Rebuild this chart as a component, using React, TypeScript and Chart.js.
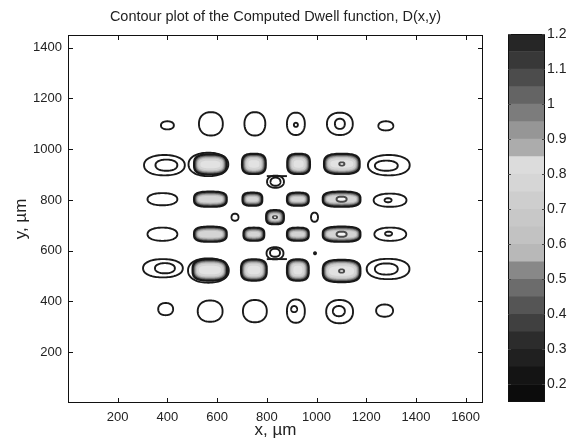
import React, { useEffect, useRef } from 'react';
import { Chart, registerables } from 'chart.js';

Chart.register(...registerables);

// ---------- axes ----------
const chartTitle = 'Contour plot of the Computed Dwell function, D(x,y)';
const xTicks = [200, 400, 600, 800, 1000, 1200, 1400, 1600];
const yTicks = [200, 400, 600, 800, 1000, 1200, 1400];
const xMin = 0;
const xMax = 1670;
const yMin = 0;
const yMax = 1450;

// ---------- single contour lines (centre x, centre y, half width, half height) in µm ----------
const lineCx = [400, 575, 752, 917, 917, 1094, 1094, 1279, 388, 396, 1291, 1281, 380, 1296, 1288, 380, 1297, 1290, 382, 390, 1288, 1281, 393, 572, 752, 917, 910, 1093, 1090, 1274, 672, 992, 835, 835, 833, 833, 565, 565, 994];
const lineCy = [1094, 1100, 1100, 1100, 1096, 1100, 1100, 1092, 937, 937, 937, 935, 803, 799, 799, 665, 665, 667, 531, 531, 528, 528, 370, 362, 362, 362, 370, 360, 362, 364, 732, 732, 872, 872, 590, 592, 940, 522, 590];
const lineRx = [26, 48, 42, 36, 8, 52, 20, 30, 82, 44, 84, 46, 60, 66, 14, 60, 64, 14, 80, 40, 86, 46, 30, 50, 48, 36, 12, 54, 24, 34, 14, 14, 34, 20, 34, 20, 80, 82, 4];
const lineRy = [16, 46, 46, 44, 8, 44, 20, 18, 40, 22, 40, 20, 24, 26, 8, 26, 26, 8, 36, 20, 40, 22, 24, 42, 44, 46, 12, 46, 20, 24, 14, 18, 24, 16, 24, 16, 46, 48, 4];

// ---------- dense (filled) contour groups ----------
const denseCx = [573, 748, 928, 1102, 573, 742, 925, 1101, 573, 748, 925, 1101, 571, 748, 925, 1101, 833];
const denseCy = [940, 942, 942, 942, 803, 803, 803, 803, 665, 665, 665, 665, 524, 524, 524, 520, 732];
const denseRx = [70, 52, 50, 76, 70, 44, 48, 80, 70, 46, 48, 80, 74, 56, 48, 80, 40];
const denseRy = [44, 44, 44, 44, 34, 30, 30, 34, 34, 30, 30, 34, 46, 46, 46, 48, 32];
const coreRx = [0, 0, 0, 14, 0, 0, 0, 24, 0, 0, 0, 24, 0, 0, 0, 14, 12];
const coreRy = [0, 0, 0, 10, 0, 0, 0, 14, 0, 0, 0, 14, 0, 0, 0, 10, 8];

// ---------- bridges joining neighbouring groups ----------
const bridgeY = [894, 567];
const bridgeX1 = [800, 800];
const bridgeX2 = [881, 881];

// ---------- colour bar ----------
const cbTicks = [0.2, 0.3, 0.4, 0.5, 0.6, 0.7, 0.8, 0.9, 1, 1.1, 1.2];
const cbEdges = [0.15, 0.2, 0.25, 0.3, 0.35, 0.4, 0.45, 0.5, 0.55, 0.6, 0.65, 0.7, 0.75, 0.8, 0.85, 0.9, 0.95, 1.0, 1.05, 1.1, 1.15, 1.2];
const cbColors = ['#0c0c0c', '#141414', '#202020', '#2c2c2c', '#404040', '#555555', '#6c6c6c', '#888888', '#b8b8b8', '#c2c2c2', '#c8c8c8', '#cecece', '#d6d6d6', '#dcdcdc', '#acacac', '#969696', '#7c7c7c', '#646464', '#4c4c4c', '#383838', '#262626'];

const FONT = "'Liberation Sans', Arial, sans-serif";
const INK = '#1a1a1a';

function blobPath(ctx: CanvasRenderingContext2D, cx: number, cy: number, a: number, b: number, n: number) {
  ctx.beginPath();
  const N = 80;
  for (let i = 0; i <= N; i++) {
    const t = (i / N) * Math.PI * 2;
    const c = Math.cos(t);
    const s = Math.sin(t);
    const x = cx + a * Math.sign(c) * Math.pow(Math.abs(c), 2 / n);
    const y = cy + b * Math.sign(s) * Math.pow(Math.abs(s), 2 / n);
    if (i === 0) ctx.moveTo(x, y);
    else ctx.lineTo(x, y);
  }
  ctx.closePath();
}

const contourPlugin = {
  id: 'contours',
  afterDatasetsDraw(chart: any) {
    const { ctx, chartArea, scales } = chart;
    const xs = scales.x;
    const ys = scales.y;
    const px = (v: number) => xs.getPixelForValue(v);
    const py = (v: number) => ys.getPixelForValue(v);
    const sx = (d: number) => Math.abs(xs.getPixelForValue(d) - xs.getPixelForValue(0));
    const sy = (d: number) => Math.abs(ys.getPixelForValue(d) - ys.getPixelForValue(0));
    ctx.save();
    ctx.beginPath();
    ctx.rect(chartArea.left, chartArea.top, chartArea.right - chartArea.left, chartArea.bottom - chartArea.top);
    ctx.clip();

    // line contours
    ctx.strokeStyle = INK;
    ctx.lineWidth = 1.9;
    for (let i = 0; i < lineCx.length; i++) {
      blobPath(ctx, px(lineCx[i]), py(lineCy[i]), sx(lineRx[i]), sy(lineRy[i]), 2.2);
      ctx.stroke();
    }
    // bridges
    for (let i = 0; i < bridgeY.length; i++) {
      ctx.beginPath();
      ctx.moveTo(px(bridgeX1[i]), py(bridgeY[i]));
      ctx.lineTo(px(bridgeX2[i]), py(bridgeY[i]));
      ctx.stroke();
    }
    // dense groups
    const insets = [0, 2.2, 3.2, 4.2, 5.4, 7.4];
    const fills = ['#181818', '#5e5e5e', '#969696', '#c0c0c0', '#d4d4d4', '#e2e2e2'];
    for (let i = 0; i < denseCx.length; i++) {
      const cx = px(denseCx[i]);
      const cy = py(denseCy[i]);
      const a = sx(denseRx[i]);
      const b = sy(denseRy[i]);
      for (let k = 0; k < insets.length; k++) {
        const aa = a - insets[k];
        const bb = b - insets[k];
        if (aa < 1.5 || bb < 1.5) break;
        ctx.fillStyle = fills[k];
        blobPath(ctx, cx, cy, aa, bb, 3);
        ctx.fill();
      }
      if (coreRx[i] > 0) {
        const ca = sx(coreRx[i]);
        const cb = sy(coreRy[i]);
        ctx.fillStyle = '#4a4a4a';
        blobPath(ctx, cx, cy, ca, cb, 2.4);
        ctx.fill();
        ctx.fillStyle = '#f6f6f6';
        blobPath(ctx, cx, cy, Math.max(ca - 2, 1), Math.max(cb - 2, 0.8), 2.4);
        ctx.fill();
      }
    }
    ctx.restore();
  },
  afterDraw(chart: any) {
    const { ctx, chartArea, scales } = chart;
    const { left, right, top, bottom } = chartArea;
    ctx.save();
    ctx.strokeStyle = '#111';
    ctx.lineWidth = 1;
    ctx.strokeRect(left + 0.5, top + 0.5, right - left - 1, bottom - top - 1);
    ctx.beginPath();
    const tl = 5;
    for (const v of xTicks) {
      const x = Math.round(scales.x.getPixelForValue(v)) + 0.5;
      ctx.moveTo(x, bottom);
      ctx.lineTo(x, bottom - tl);
      ctx.moveTo(x, top);
      ctx.lineTo(x, top + tl);
    }
    for (const v of yTicks) {
      const y = Math.round(scales.y.getPixelForValue(v)) + 0.5;
      ctx.moveTo(left, y);
      ctx.lineTo(left + tl, y);
      ctx.moveTo(right, y);
      ctx.lineTo(right - tl, y);
    }
    ctx.stroke();
    // title, centred over the axes as in the original figure
    ctx.fillStyle = '#222';
    ctx.font = `14.5px ${FONT}`;
    ctx.textAlign = 'center';
    ctx.textBaseline = 'middle';
    ctx.fillText(chartTitle, (left + right) / 2, 17);
    ctx.restore();
  },
};

const colorbarPlugin = {
  id: 'cbframe',
  afterDraw(chart: any) {
    const { ctx, chartArea, scales } = chart;
    const { left, right, top, bottom } = chartArea;
    ctx.save();
    ctx.strokeStyle = '#111';
    ctx.lineWidth = 1;
    ctx.strokeRect(left + 0.5, top + 0.5, right - left - 1, bottom - top - 1);
    ctx.strokeStyle = '#444';
    ctx.beginPath();
    for (const v of cbTicks) {
      const y = Math.round(scales.y.getPixelForValue(v)) + 0.5;
      ctx.moveTo(left, y);
      ctx.lineTo(left + 3, y);
      ctx.moveTo(right, y);
      ctx.lineTo(right - 3, y);
    }
    ctx.stroke();
    ctx.restore();
  },
};

export default function App() {
  const mainRef = useRef<HTMLCanvasElement>(null);
  const cbRef = useRef<HTMLCanvasElement>(null);

  useEffect(() => {
    document.body.style.margin = '0';
    const main = new Chart(mainRef.current as HTMLCanvasElement, {
      type: 'scatter',
      data: {
        datasets: [
          {
            data: denseCx.map((x, i) => ({ x, y: denseCy[i] })),
            pointRadius: 0,
            showLine: false,
          },
        ],
      },
      options: {
        responsive: false,
        animation: false,
        events: [],
        layout: { padding: { left: 0, right: 12, top: 35, bottom: 0 } },
        plugins: {
          legend: { display: false },
          tooltip: { enabled: false },
          title: { display: false },
        },
        scales: {
          x: {
            type: 'linear',
            min: xMin,
            max: xMax,
            afterBuildTicks: (s: any) => {
              s.ticks = xTicks.map((v) => ({ value: v }));
            },
            afterFit: (s: any) => {
              s.height = 38;
            },
            grid: { display: false, drawTicks: false, tickLength: 0 },
            border: { display: false },
            ticks: {
              color: '#222',
              font: { family: FONT, size: 13 },
              padding: 7,
              maxRotation: 0,
              autoSkip: false,
              callback: (v: any) => String(v),
            },
            title: {
              display: true,
              text: 'x, µm',
              color: '#222',
              font: { family: FONT, size: 17, lineHeight: 1 },
              padding: { top: 0, bottom: 2.5 },
            },
          },
          y: {
            type: 'linear',
            min: yMin,
            max: yMax,
            afterBuildTicks: (s: any) => {
              s.ticks = yTicks.map((v) => ({ value: v }));
            },
            afterFit: (s: any) => {
              s.width = 68;
            },
            grid: { display: false, drawTicks: false, tickLength: 0 },
            border: { display: false },
            ticks: {
              color: '#222',
              font: { family: FONT, size: 13 },
              padding: 6,
              autoSkip: false,
              callback: (v: any) => String(v),
            },
            title: {
              display: true,
              text: 'y, µm',
              color: '#222',
              font: { family: FONT, size: 17, lineHeight: 1 },
              padding: { top: 12.5, bottom: 0 },
            },
          },
        },
      },
      plugins: [contourPlugin],
    } as any);

    const cb = new Chart(cbRef.current as HTMLCanvasElement, {
      type: 'bar',
      data: {
        labels: ['D'],
        datasets: cbColors.map((c, i) => ({
          data: [[cbEdges[i], cbEdges[i + 1]]],
          backgroundColor: c,
          borderWidth: 0,
          grouped: false,
          barPercentage: 1,
          categoryPercentage: 1,
        })),
      },
      options: {
        responsive: false,
        animation: false,
        events: [],
        layout: { padding: { left: 13, right: 0, top: 34, bottom: 39 } },
        plugins: { legend: { display: false }, tooltip: { enabled: false }, title: { display: false } },
        scales: {
          x: { display: false },
          y: {
            position: 'right',
            min: cbEdges[0],
            max: cbEdges[cbEdges.length - 1],
            afterBuildTicks: (s: any) => {
              s.ticks = cbTicks.map((v) => ({ value: v }));
            },
            afterFit: (s: any) => {
              s.width = 35;
            },
            grid: { display: false, drawTicks: false, tickLength: 0 },
            border: { display: false },
            ticks: {
              color: '#222',
              font: { family: FONT, size: 14 },
              padding: 2,
              autoSkip: false,
              callback: (v: any) => String(v),
            },
          },
        },
      },
      plugins: [colorbarPlugin],
    } as any);

    return () => {
      main.destroy();
      cb.destroy();
    };
  }, []);

  return (
    <div style={{ position: 'relative', width: 580, height: 441, background: '#fff', overflow: 'hidden' }}>
      <canvas ref={mainRef} width={495} height={441} style={{ position: 'absolute', left: 0, top: 0 }} />
      <canvas ref={cbRef} width={85} height={441} style={{ position: 'absolute', left: 495, top: 0 }} />
    </div>
  );
}
